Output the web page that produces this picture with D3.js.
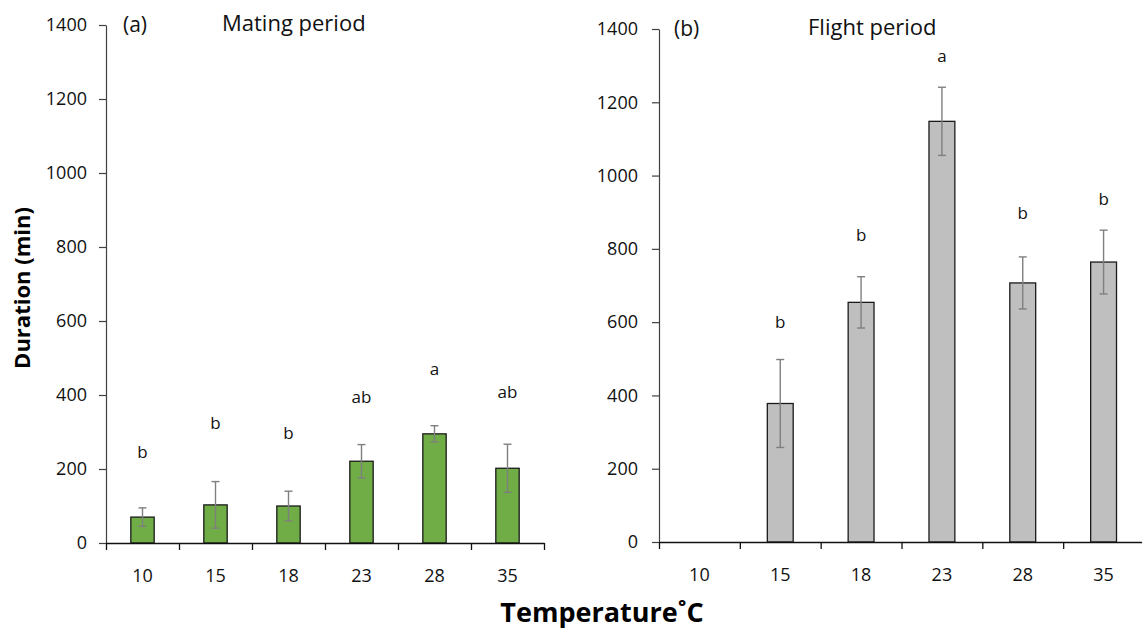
<!DOCTYPE html>
<html>
<head>
<meta charset="utf-8">
<script src="https://cdn.jsdelivr.net/npm/d3@7/dist/d3.min.js"></script>
<style>
  html, body { margin: 0; padding: 0; background: #fff; }
  svg { display: block; font-family: "Open Sans", "Noto Sans", sans-serif; }
</style>
</head>
<body>
<svg id="chart" width="1142" height="629"></svg>
<script>
// Temperature treatments (°C)
const temperatures = ["10", "15", "18", "23", "28", "35"];
const yTicks = [0, 200, 400, 600, 800, 1000, 1200, 1400];

// (a) Mating period: mean duration (min) and error
const matingMean = [70, 103, 100, 221, 295, 202];
const matingErr = [25, 63, 40, 45, 22, 65];
const matingLetters = ["b", "b", "b", "ab", "a", "ab"];
const matingLetterAt = [230, 308, 281, 378, 454, 392];

// (b) Flight period: mean duration (min) and error (no flight at 10 °C)
const flightMean = [null, 378, 654, 1148, 707, 764];
const flightErr = [null, 120, 70, 93, 71, 87];
const flightLetters = [null, "b", "b", "a", "b", "b"];
const flightLetterAt = [null, 584, 821, 1310, 881, 920];

const svg = d3.select("#chart");

function drawPanel(opts) {
  const { x0, x1, yTop, yBottom, means, errs, letters, letterAt, fill, tag, title, tagX, titleX, letterSize } = opts;

  const x = d3.scaleBand().domain(temperatures).range([x0, x1]).paddingInner(0).paddingOuter(0);
  const y = d3.scaleLinear().domain([0, 1400]).range([yBottom, yTop]);
  const edges = d3.scaleLinear().domain([0, temperatures.length]).range([x0, x1]);

  const g = svg.append("g");

  // y axis
  const yAxis = g.append("g")
    .attr("transform", `translate(${x0},0)`)
    .call(d3.axisLeft(y).tickValues(yTicks).tickFormat(d3.format("d"))
      .tickSize(7).tickSizeOuter(0).tickPadding(opts.yPad));
  yAxis.select(".domain").attr("stroke", "#404040").attr("stroke-width", 1.2);
  yAxis.selectAll(".tick line").attr("stroke", "#404040").attr("stroke-width", 1.2);
  yAxis.selectAll(".tick text").attr("font-size", 18).attr("fill", "#111").attr("font-family", "Open Sans");

  // bars
  const rows = temperatures.map((t, i) => ({ t, m: means[i], e: errs[i], l: letters[i], la: letterAt[i] }));
  const bw = x.bandwidth() * 0.32;
  const barRows = rows.filter(d => d.m != null);

  g.selectAll("rect.bar").data(barRows).join("rect")
    .attr("class", "bar")
    .attr("x", d => x(d.t) + x.bandwidth() / 2 - bw / 2)
    .attr("width", bw)
    .attr("y", d => y(d.m))
    .attr("height", d => y(0) - y(d.m))
    .attr("fill", fill)
    .attr("stroke", "#1a1a1a")
    .attr("stroke-width", 1.3);

  // error bars
  const eb = g.selectAll("g.err").data(barRows).join("g").attr("class", "err")
    .attr("stroke", "#7f7f7f").attr("stroke-width", 1.4);
  eb.append("line")
    .attr("x1", d => x(d.t) + x.bandwidth() / 2).attr("x2", d => x(d.t) + x.bandwidth() / 2)
    .attr("y1", d => y(d.m + d.e)).attr("y2", d => y(d.m - d.e));
  eb.append("line")
    .attr("x1", d => x(d.t) + x.bandwidth() / 2 - 4).attr("x2", d => x(d.t) + x.bandwidth() / 2 + 4)
    .attr("y1", d => y(d.m + d.e)).attr("y2", d => y(d.m + d.e));
  eb.append("line")
    .attr("x1", d => x(d.t) + x.bandwidth() / 2 - 4).attr("x2", d => x(d.t) + x.bandwidth() / 2 + 4)
    .attr("y1", d => y(d.m - d.e)).attr("y2", d => y(d.m - d.e));

  // significance letters
  g.selectAll("text.sig").data(rows.filter(d => d.l)).join("text")
    .attr("class", "sig")
    .attr("x", d => x(d.t) + x.bandwidth() / 2)
    .attr("y", d => y(d.la))
    .attr("text-anchor", "middle")
    .attr("font-size", letterSize)
    .attr("fill", "#111")
    .text(d => d.l);

  // x axis: boundary ticks
  const xEdges = g.append("g")
    .attr("transform", `translate(0,${yBottom})`)
    .call(d3.axisBottom(edges).tickValues(d3.range(temperatures.length + 1)).tickSize(7).tickSizeOuter(0).tickFormat(""));
  xEdges.select(".domain").attr("stroke", "#111").attr("stroke-width", 1.4);
  xEdges.selectAll(".tick line").attr("stroke", "#111").attr("stroke-width", 1.3);

  // x axis: category labels
  const xLabels = g.append("g")
    .attr("transform", `translate(0,${yBottom})`)
    .call(d3.axisBottom(x).tickSize(0).tickPadding(26));
  xLabels.select(".domain").remove();
  xLabels.selectAll(".tick text").attr("font-size", 18).attr("fill", "#111").attr("font-family", "Open Sans");

  // panel tag and title
  g.append("text").attr("x", tagX).attr("y", yTop + 7).attr("font-size", 21).attr("fill", "#111").text(tag);
  g.append("text").attr("x", titleX).attr("y", yTop + 6).attr("font-size", 22).attr("fill", "#111").text(title);
}

drawPanel({
  x0: 106, x1: 544, yTop: 25, yBottom: 543,
  means: matingMean, errs: matingErr, letters: matingLetters, letterAt: matingLetterAt,
  fill: "#70AD47", tag: "(a)", title: "Mating period", tagX: 123, titleX: 222, yPad: 12, letterSize: 17
});

drawPanel({
  x0: 659, x1: 1144, yTop: 29, yBottom: 542,
  means: flightMean, errs: flightErr, letters: flightLetters, letterAt: flightLetterAt,
  fill: "#BFBFBF", tag: "(b)", title: "Flight period", tagX: 674, titleX: 808, yPad: 14, letterSize: 17
});

// shared axis titles
svg.append("text")
  .attr("transform", "translate(30,288) rotate(-90)")
  .attr("text-anchor", "middle")
  .attr("font-size", 22).attr("font-weight", "bold").attr("fill", "#000")
  .text("Duration (min)");

svg.append("text")
  .attr("x", 602).attr("y", 622)
  .attr("text-anchor", "middle")
  .attr("font-size", 27).attr("font-weight", "bold").attr("fill", "#000")
  .text("Temperature˚C");
</script>
</body>
</html>
